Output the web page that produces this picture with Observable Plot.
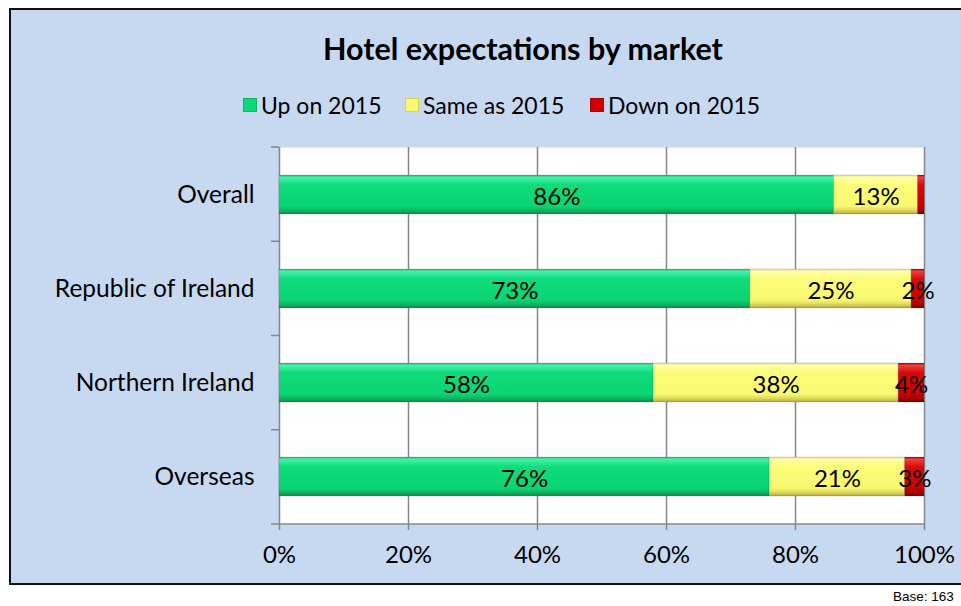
<!DOCTYPE html>
<html><head><meta charset="utf-8">
<script src="https://cdn.jsdelivr.net/npm/d3@7"></script>
<script src="https://cdn.jsdelivr.net/npm/@observablehq/plot@0.6"></script>
<style>
html,body{margin:0;padding:0;background:#fff;width:961px;height:606px;overflow:hidden;font-family:Lato,"Noto Sans",sans-serif;color:#000;}
#frame{position:absolute;left:9px;top:8px;width:980px;height:577px;background:#C6D9F1;border:2px solid #111;box-sizing:border-box;}
#title{position:absolute;left:0;width:1046px;top:30px;text-align:center;font-size:30.5px;font-weight:bold;}
#legend{position:absolute;left:0;top:92px;height:26px;width:961px;font-size:23px;white-space:nowrap;}
.item{position:absolute;top:0;display:flex;align-items:center;height:26px;}
.sw{width:14px;height:14px;margin-right:4px;box-sizing:border-box;}
#chart{position:absolute;left:0;top:0;}
#base{position:absolute;left:893px;top:589px;font-family:"Liberation Sans",Arial,sans-serif;font-size:13.5px;white-space:nowrap;}
</style></head>
<body>
<div id="frame"></div>
<div id="title">Hotel expectations by market</div>
<div id="legend"></div>
<div id="chart"></div>
<div id="base">Base: 163</div>
<script>
const markets = ["Overall", "Republic of Ireland", "Northern Ireland", "Overseas"];
const series = ["Up on 2015", "Same as 2015", "Down on 2015"];
const upOn2015 = [86, 73, 58, 76];
const sameAs2015 = [13, 25, 38, 21];
const downOn2015 = [1, 2, 4, 3];
const xTicks = [0, 20, 40, 60, 80, 100];

const seriesValues = [upOn2015, sameAs2015, downOn2015];
const data = markets.flatMap((m, i) => series.map((s, j) => ({market: m, series: s, value: seriesValues[j][i]})));

const swatchColors = ["#0BD877", "#FAFA70", "#D00000"];
const legendLefts = [243, 405, 590];
const legend = document.getElementById("legend");
series.forEach((s, j) => {
  const it = document.createElement("div"); it.className = "item";
  it.style.left = legendLefts[j] + "px";
  const sw = document.createElement("div"); sw.className = "sw";
  sw.style.background = swatchColors[j];
  sw.style.border = "1px solid rgba(0,0,0,0.15)";
  const t = document.createElement("span"); t.textContent = s;
  it.append(sw, t); legend.append(it);
});

function categoryTicks(index, scales, values, dims) {
  const g = d3.create("svg:g");
  const n = markets.length;
  const h = dims.height - dims.marginTop - dims.marginBottom;
  for (let i = 0; i <= n; i++) {
    const y = dims.marginTop + i * h / n;
    g.append("line").attr("x1", dims.marginLeft - 8).attr("x2", dims.marginLeft)
      .attr("y1", y).attr("y2", y).attr("stroke", "#868686").attr("stroke-width", 1.5);
  }
  g.append("line").attr("x1", dims.marginLeft).attr("x2", dims.width - dims.marginRight)
    .attr("y1", dims.height - dims.marginBottom).attr("y2", dims.height - dims.marginBottom)
    .attr("stroke", "#868686").attr("stroke-width", 1.5);
  return g.node();
}

const svg = Plot.plot({
  width: 961, height: 606,
  marginLeft: 279, marginRight: 37, marginTop: 147, marginBottom: 82,
  style: {background: "transparent", fontFamily: "Lato, 'Noto Sans', sans-serif", fontSize: "24px", color: "#000", overflow: "visible"},
  x: {domain: [0, 100], label: null},
  y: {domain: markets, paddingInner: 0.585, paddingOuter: 0.2925, label: null},
  color: {domain: series, range: ["url(#gUp)", "url(#gSame)", "url(#gDown)"]},
  marks: [
    Plot.frame({fill: "white", stroke: null}),
    Plot.gridX(xTicks, {stroke: "#868686", strokeOpacity: 1, strokeWidth: 1.5}),
    Plot.axisX(xTicks, {tickSize: 6, tickPadding: 15, stroke: "#868686", strokeWidth: 1.5, tickFormat: d => d + "%", fontSize: 24, fill: "#000"}),
    Plot.axisY({tickSize: 0, tickPadding: 25, fontSize: 24.5, fill: "#000"}),
    categoryTicks,
    Plot.barX(data, Plot.stackX({x: "value", y: "market", fill: "series", stroke: "rgba(0,0,0,0.12)", strokeWidth: 1})),
    Plot.text(data, Plot.stackX({x: "value", y: "market", z: "series", text: d => d.value >= 2 ? d.value + "%" : "", fontSize: 24, fill: "#000", dy: 2}))
  ]
});

const defs = d3.select(svg).insert("defs", ":first-child");
function grad(id, stops) {
  const lg = defs.append("linearGradient").attr("id", id).attr("x1", 0).attr("y1", 0).attr("x2", 0).attr("y2", 1);
  stops.forEach(([o, c]) => lg.append("stop").attr("offset", o).attr("stop-color", c));
}
grad("gUp", [[0, "#1BB86A"], [0.06, "#45F2AC"], [0.25, "#10DC7C"], [0.8, "#0AD473"], [0.9, "#0DB862"], [1, "#128C4C"]]);
grad("gSame", [[0, "#E0E060"], [0.06, "#FFFFB0"], [0.25, "#FCFC78"], [0.8, "#F8F870"], [0.9, "#E0DA5A"], [1, "#B0A840"]]);
grad("gDown", [[0, "#B00000"], [0.06, "#F04040"], [0.25, "#D80A0A"], [0.8, "#C80000"], [0.9, "#A80000"], [1, "#800000"]]);

document.getElementById("chart").append(svg);
</script>
</body></html>
